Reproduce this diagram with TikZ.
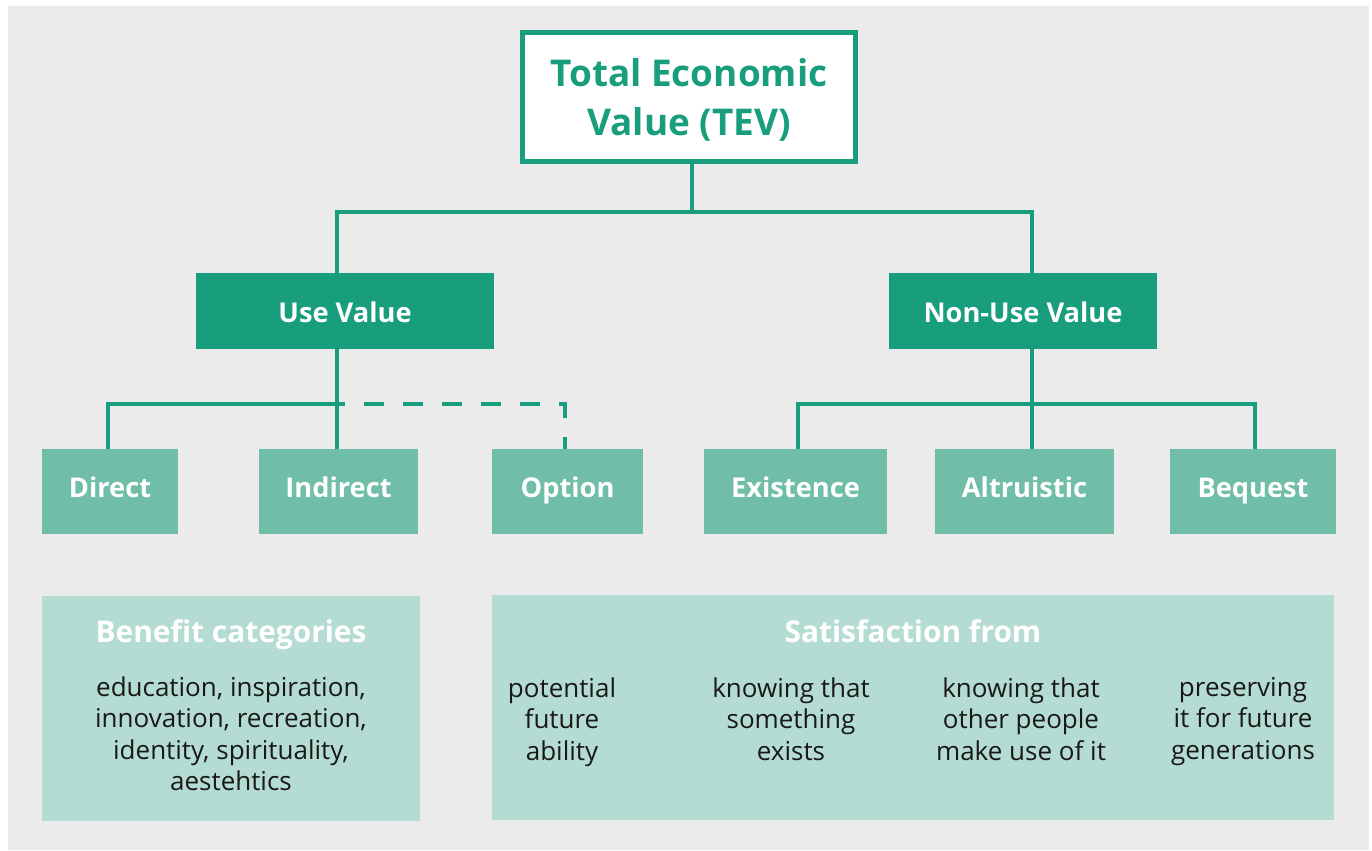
\documentclass[tikz,border=0pt]{standalone}
\usepackage{fontspec}
\setmainfont{Open Sans}
\definecolor{tevgreen}{RGB}{24,158,124}
\definecolor{midgreen}{RGB}{113,190,168}
\definecolor{palegreen}{RGB}{180,220,210}
\definecolor{backgrey}{RGB}{235,235,235}
\usetikzlibrary{positioning}
\tikzset{
    topbox/.style={
        rectangle,
        draw=tevgreen,
        line width=0.1cm,
        fill=white,
        minimum width=6.66cm,
        minimum height=2.58cm,
        align=center,
        text depth=0pt,
        text=tevgreen,
        font=\fontsize{21}{28.3}\selectfont\bfseries
    },
    valuebox/.style={
        rectangle,
        fill=tevgreen,
        minimum height=1.52cm,
        text height=13pt,
        text depth=0.2pt,
        text=white,
        font=\fontsize{15.5}{18}\selectfont\bfseries
    },
    typebox/.style={
        rectangle,
        fill=midgreen,
        minimum height=1.7cm,
        text height=7pt,
        text depth=0pt,
        text=white,
        font=\fontsize{15.5}{18}\selectfont\bfseries
    },
    infobox/.style={
        rectangle,
        fill=palegreen,
        minimum height=4.52cm
    },
    headtext/.style={anchor=base, text=white, font=\fontsize{17}{20}\selectfont\bfseries},
    bodytext/.style={
        anchor=north,
        inner sep=0pt,
        align=center,
        text=black!90,
        font=\fontsize{14.8}{17.9}\selectfont,
        execute at begin node=\strut
    },
    link/.style={draw=tevgreen, line width=0.09cm}
}

\begin{document}
\begin{tikzpicture}[x=0.02cm, y=-0.02cm]
    \useasboundingbox (0,0) rectangle (1372,850);
    \fill[backgrey] (8,6) rectangle (1369,850);

    % top of the tree
    \node[topbox] (tev) at (689,97) {Total Economic\\Value (TEV)};
    \node[valuebox, minimum width=5.96cm] (use) at (345,311) {Use Value};
    \node[valuebox, minimum width=5.36cm] (nonuse) at (1023,311) {Non-Use Value};

    % value types
    \node[typebox, minimum width=2.72cm] (direct) at (110,491.5) {Direct};
    \node[typebox, minimum width=3.18cm] (indirect) at (338.5,491.5) {Indirect};
    \node[typebox, minimum width=3.02cm] (option) at (567.5,491.5) {Option};
    \node[typebox, minimum width=3.66cm] (exist) at (795.5,491.5) {Existence};
    \node[typebox, minimum width=3.58cm] (altru) at (1024.5,491.5) {Altruistic};
    \node[typebox, minimum width=3.32cm] (bequest) at (1253,491.5) {Bequest};

    % info panels
    \node[infobox, minimum width=7.56cm] (benefit) at (231,708.5) {};
    \node[infobox, minimum width=16.84cm] (satis) at (913,707.5) {};
    \node[headtext] (benefithead) at (231,642) {Benefit categories};
    \node[headtext] (satishead) at (913,642) {Satisfaction from};
    \node[bodytext] (benefitlist) at (231,676) {education, inspiration,\\innovation, recreation,\\identity, spirituality,\\aestehtics};
    \node[bodytext] (optiontext) at (562,677) {potential\\future\\ability};
    \node[bodytext] (existtext) at (791,677) {knowing that\\something\\exists};
    \node[bodytext] (altrutext) at (1021,677) {knowing that\\other people\\make use of it};
    \node[bodytext] (bequesttext) at (1243,677) {preserving\\it for future\\generations};

    % junctions
    \coordinate (hub) at (692,212);
    \coordinate (usebar) at (337,212);
    \coordinate (nonusebar) at (1032,212);
    \coordinate (usejoin) at (337,404);
    \coordinate (nonusejoin) at (1032,404);

    \draw[link] (tev.south -| hub) -- (hub);
    \draw[link] (use.north -| usebar) -- (usebar) -- (nonusebar) -- (nonuse.north -| nonusebar);
    \draw[link] (use.south -| usejoin) -- (indirect.north -| usejoin);
    \draw[link] (usejoin) -| (direct.north -| 108,0);
    \draw[link, dash pattern=on 0.4cm off 0.38cm, dash phase=0.24cm] (usejoin) -| (option.north -| 565,0);
    \draw[link] (nonuse.south -| nonusejoin) -- (altru.north -| nonusejoin);
    \draw[link] (nonusejoin) -| (exist.north -| 798,0);
    \draw[link] (nonusejoin) -| (bequest.north -| 1255,0);
\end{tikzpicture}
\end{document}
